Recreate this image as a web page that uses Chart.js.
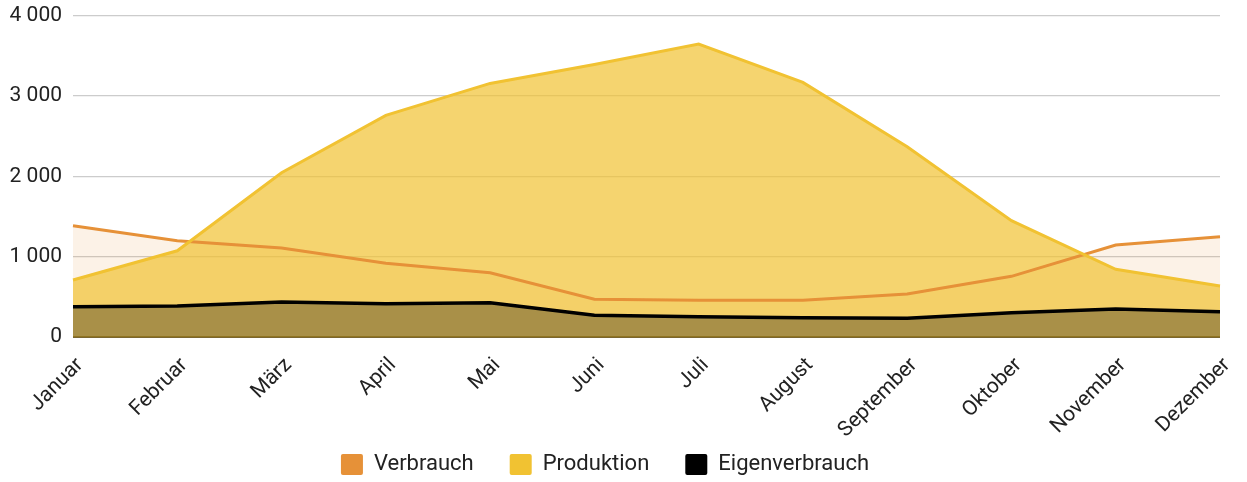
<!DOCTYPE html>
<html>
<head>
<meta charset="utf-8">
<script src="https://cdn.jsdelivr.net/npm/chart.js@4"></script>
<style>
html,body{margin:0;padding:0;background:#fff;}
#wrap{width:1247px;height:482px;}
</style>
</head>
<body>
<div id="wrap"><canvas id="c" width="1247" height="482"></canvas></div>
<script>
const months = ['Januar','Februar','März','April','Mai','Juni','Juli','August','September','Oktober','November','Dezember'];
const verbrauch = [1385, 1198, 1107, 917, 800, 469, 456, 456, 535, 755, 1144, 1248];
const produktion = [709, 1073, 2044, 2757, 3155, 3391, 3644, 3168, 2367, 1447, 842, 634];
const eigenverbrauch = [377, 386, 435, 414, 427, 270, 253, 240, 232, 302, 348, 315];
const yTicks = [0, 1000, 2000, 3000, 4000];

const fmt = v => String(v).replace(/\B(?=(\d{3})+(?!\d))/g, ' ');

const LEGEND_PAD = 36;
const X_HEIGHT = 125;
const legendPlacer = {
  id: 'legendPlacer',
  beforeLayout(chart) {
    const L = chart.legend;
    if (L && !L._patchedFit) {
      const orig = L.fit.bind(L);
      L.fit = function () { orig(); this.height = 482 - 337 - X_HEIGHT; };
      L._patchedFit = true;
    }
  },
  afterLayout(chart) {
    const L = chart.legend;
    if (!L) return;
    L.top = 454 - LEGEND_PAD - 0.5;
    L.bottom = L.top + 68;
    L.left -= 5;
    L.right -= 5;
  }
};

new Chart(document.getElementById('c'), {
  type: 'line',
  data: {
    labels: months,
    datasets: [
      { label: 'Verbrauch', data: verbrauch, borderColor: '#E69138', backgroundColor: 'rgba(230,145,56,0.12)',
        fill: 'origin', borderWidth: 3, pointRadius: 0, tension: 0, order: 3 },
      { label: 'Produktion', data: produktion, borderColor: '#F1C232', backgroundColor: 'rgba(241,194,50,0.7)',
        fill: 'origin', borderWidth: 3, pointRadius: 0, tension: 0, order: 2 },
      { label: 'Eigenverbrauch', data: eigenverbrauch, borderColor: '#000000', backgroundColor: 'rgba(0,0,0,0.31)',
        fill: 'origin', borderWidth: 3.5, pointRadius: 0, tension: 0, order: 1 }
    ]
  },
  plugins: [legendPlacer],
  options: {
    responsive: false,
    animation: false,
    layout: { padding: { left: 0, right: 27, top: 15.5, bottom: 0 } },
    plugins: {
      filler: { drawTime: 'beforeDatasetsDraw' },
      tooltip: { enabled: false },
      legend: {
        position: 'bottom',
        labels: {
          font: { family: 'Roboto', size: 22, lineHeight: 1.0 },
          color: '#222',
          boxWidth: 22,
          boxHeight: 21,
          padding: LEGEND_PAD,
          useBorderRadius: true,
          borderRadius: 2,
          sort: (a, b) => a.datasetIndex - b.datasetIndex,
          generateLabels: chart => Chart.defaults.plugins.legend.labels.generateLabels(chart).map(l => {
            const ds = chart.data.datasets[l.datasetIndex];
            l.fillStyle = ds.borderColor; l.strokeStyle = ds.borderColor; l.lineWidth = 0;
            return l;
          })
        }
      }
    },
    scales: {
      x: {
        grid: { display: false, drawTicks: false },
        border: { display: false },
        ticks: { font: { family: 'Roboto', size: 21 }, color: '#222', maxRotation: 45, minRotation: 45, padding: 16, labelOffset: 7, autoSkip: false },
        afterFit: s => { s.height = X_HEIGHT; s.paddingLeft = 0; s.paddingRight = 0; }
      },
      y: {
        min: 0, max: 4000,
        afterBuildTicks: s => { s.ticks = yTicks.map(v => ({ value: v })); },
        grid: { color: ctx => ctx.tick && ctx.tick.value === 0 ? '#7a6630' : '#cccccc', lineWidth: ctx => ctx.tick && ctx.tick.value === 0 ? 2 : 1.3, drawTicks: false },
        border: { display: false },
        ticks: { font: { family: 'Roboto', size: 21 }, color: '#222', padding: 11, callback: v => fmt(v) },
        afterFit: s => { s.width = 73; s.paddingTop = 0; s.paddingBottom = 0; }
      }
    }
  }
});
</script>
</body>
</html>
